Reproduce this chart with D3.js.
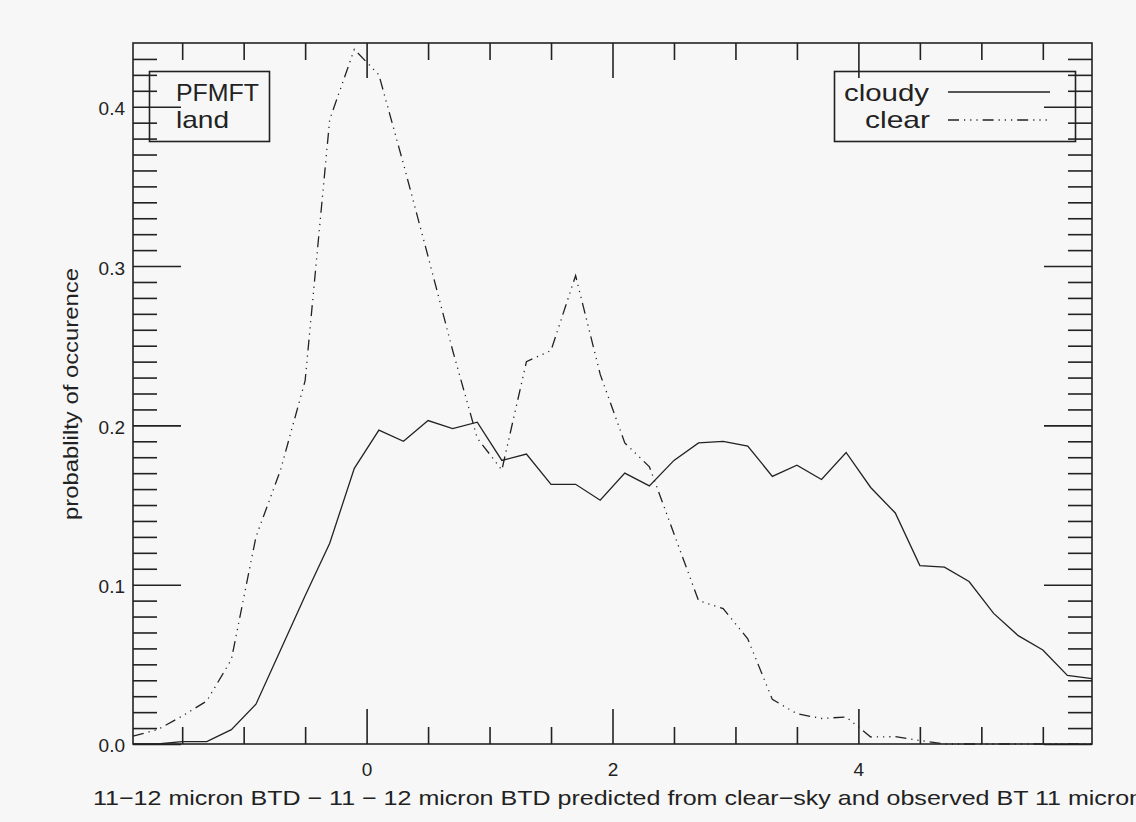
<!DOCTYPE html>
<html>
<head>
<meta charset="utf-8">
<script src="https://cdn.jsdelivr.net/npm/d3@7"></script>
<style>
  html, body { margin: 0; padding: 0; background: #f7f7f7; }
  svg { display: block; }
  text { font-family: "Liberation Sans", Arial, sans-serif; fill: #222; }
</style>
</head>
<body>
<svg id="chart" width="1136" height="822"></svg>
<script>

// bin centres of the BTD difference histogram
const btd = d3.range(40).map((i) => +(-1.9 + 0.2 * i).toFixed(1))

const cloudy = [
  0.000, 0.000, 0.0015, 0.0015, 0.009, 0.025, 0.059, 0.093, 0.126, 0.173,
  0.197, 0.190, 0.203, 0.198, 0.202, 0.178, 0.182, 0.163, 0.163, 0.153,
  0.170, 0.162, 0.178, 0.189, 0.190, 0.187, 0.168, 0.175, 0.166, 0.183,
  0.161, 0.145, 0.112, 0.111, 0.102, 0.082, 0.068, 0.059, 0.043, 0.041
]

const clear = [
  0.005, 0.009, 0.0175, 0.027, 0.053, 0.130, 0.172, 0.228, 0.392, 0.436,
  0.420, 0.364, 0.306, 0.247, 0.192, 0.172, 0.240, 0.247, 0.294, 0.232,
  0.189, 0.174, 0.132, 0.090, 0.085, 0.066, 0.028, 0.019, 0.016, 0.017,
  0.0044, 0.0046, 0.0022, 0, 0, 0, 0, 0, 0, 0
]

const xMajor = [0, 2, 4]
const xMinor = [-1.5, -1, -0.5, 0.5, 1, 1.5, 2.5, 3, 3.5, 4.5, 5, 5.5]
const yMajor = [0, 0.1, 0.2, 0.3, 0.4]
const yMinor = d3.range(1, 44).filter((i) => i % 10).map((i) => i / 100)

const BOX = { left: 133, right: 1092, top: 43, bottom: 744 }
const INK = '#222'
const CLEAR_DASH = '11 5 1.2 5 1.2 5 1.2 5'

let svg = d3.select('#chart')

svg.append('rect')
  .attr('width', 1136).attr('height', 822)
  .attr('fill', '#f7f7f7')

let x = d3.scaleLinear().domain([-1.9, 5.9]).range([BOX.left, BOX.right])
let y = d3.scaleLinear().domain([0, 0.44]).range([BOX.bottom, BOX.top])

// ticks point inward on all four sides, labels only bottom/left

function ticks(axis, at, len, labels) {
  let g = svg.append('g')
    .attr('transform', at)
    .call(axis.tickSizeInner(-len).tickSizeOuter(0))
  g.select('.domain').remove()
  g.selectAll('line').attr('stroke', INK).attr('stroke-width', 1.6)
  if(!labels) g.selectAll('text').remove()
  return g
}

let bottom = ticks(d3.axisBottom(x).tickValues(xMajor).tickPadding(19).tickFormat(d3.format('d')),
                   'translate(0,' + BOX.bottom + ')', 35, true)
bottom.selectAll('text').attr('font-size', 19).attr('fill', INK)
ticks(d3.axisBottom(x).tickValues(xMinor), 'translate(0,' + BOX.bottom + ')', 17)
ticks(d3.axisTop(x).tickValues(xMajor), 'translate(0,' + BOX.top + ')', 35)
ticks(d3.axisTop(x).tickValues(xMinor), 'translate(0,' + BOX.top + ')', 17)

let left = ticks(d3.axisLeft(y).tickValues(yMajor).tickPadding(8).tickFormat(d3.format('.1f')),
                 'translate(' + BOX.left + ',0)', 48, true)
left.selectAll('text').attr('font-size', 19).attr('dy', '0.42em').attr('fill', INK)
ticks(d3.axisLeft(y).tickValues(yMinor), 'translate(' + BOX.left + ',0)', 24)
ticks(d3.axisRight(y).tickValues(yMajor), 'translate(' + BOX.right + ',0)', 48)
ticks(d3.axisRight(y).tickValues(yMinor), 'translate(' + BOX.right + ',0)', 24)

svg.append('rect')
  .attr('x', BOX.left).attr('y', BOX.top)
  .attr('width', BOX.right - BOX.left).attr('height', BOX.bottom - BOX.top)
  .attr('fill', 'none').attr('stroke', INK).attr('stroke-width', 1.6)

// the two histograms

let line = d3.line()
  .x((d) => x(d[0]))
  .y((d) => y(d[1]))

svg.append('path')
  .datum(d3.zip(btd, cloudy))
  .attr('d', line)
  .attr('fill', 'none').attr('stroke', INK).attr('stroke-width', 1.3)

svg.append('path')
  .datum(d3.zip(btd, clear))
  .attr('d', line)
  .attr('fill', 'none').attr('stroke', INK).attr('stroke-width', 1.3)
  .attr('stroke-dasharray', CLEAR_DASH)

// axis titles

svg.append('text')
  .attr('x', 93).attr('y', 805)
  .attr('font-size', 21)
  .attr('textLength', 1050).attr('lengthAdjust', 'spacingAndGlyphs')
  .text('11\u221212 micron BTD \u2212 11 \u2212 12 micron BTD predicted from clear\u2212sky and observed BT 11 micron')

svg.append('text')
  .attr('transform', 'translate(78,394) rotate(-90)')
  .attr('text-anchor', 'middle')
  .attr('font-size', 21)
  .attr('textLength', 252).attr('lengthAdjust', 'spacingAndGlyphs')
  .text('probablilty of occurence')

// legends: product name box on the left, line key on the right

function label(txt, px, py, len) {
  svg.append('text')
    .attr('x', px).attr('y', py)
    .attr('font-size', 24)
    .attr('textLength', len).attr('lengthAdjust', 'spacingAndGlyphs')
    .text(txt)
}

svg.append('rect')
  .attr('x', 149.5).attr('y', 71.5).attr('width', 120).attr('height', 70)
  .attr('fill', 'none').attr('stroke', INK).attr('stroke-width', 1.6)
label('PFMFT', 176, 101, 83)
label('land', 176, 128, 53)

svg.append('rect')
  .attr('x', 834.5).attr('y', 71.5).attr('width', 241).attr('height', 70)
  .attr('fill', 'none').attr('stroke', INK).attr('stroke-width', 1.6)
label('cloudy', 844, 101, 85)
label('clear', 865, 128, 65)

svg.append('line')
  .attr('x1', 948).attr('x2', 1050).attr('y1', 92).attr('y2', 92)
  .attr('stroke', INK).attr('stroke-width', 1.3)
svg.append('line')
  .attr('x1', 948).attr('x2', 1050).attr('y1', 120).attr('y2', 120)
  .attr('stroke', INK).attr('stroke-width', 1.3)
  .attr('stroke-dasharray', CLEAR_DASH)

</script>
</body>
</html>
